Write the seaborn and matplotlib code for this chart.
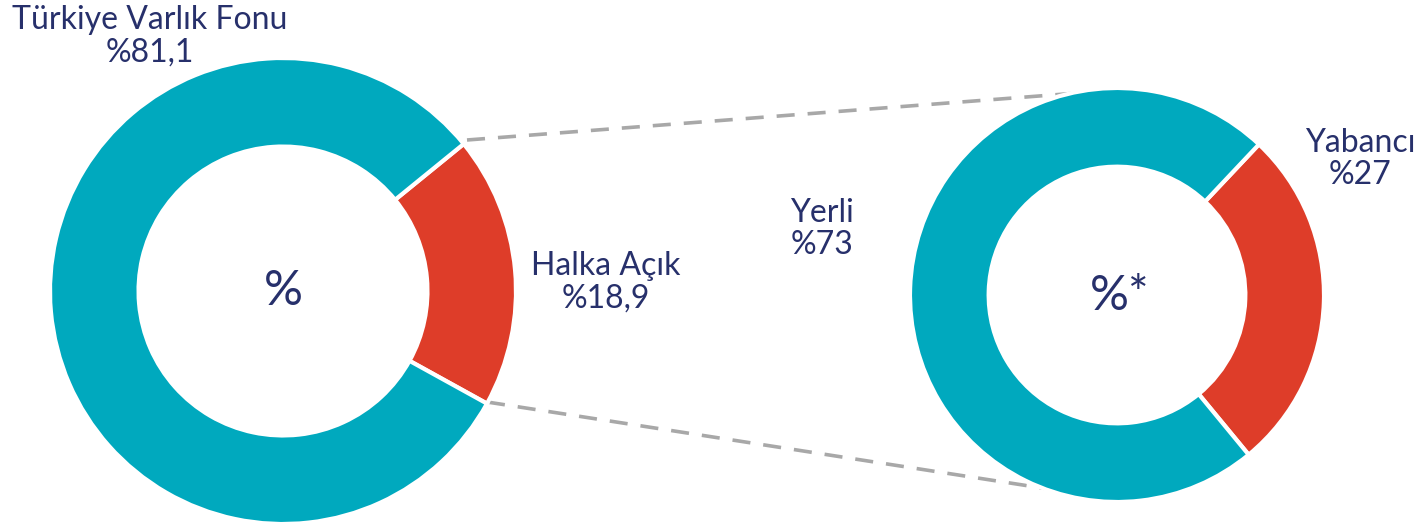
import matplotlib
matplotlib.use("Agg")
import matplotlib.pyplot as plt
import seaborn as sns

# Data
main_labels = ["Halka Açık", "Türkiye Varlık Fonu"]
main_values = [18.9, 81.1]
main_texts = ["Halka Açık\n%18,9", "Türkiye Varlık Fonu\n%81,1"]
sub_labels = ["Yabancı", "Yerli"]
sub_values = [27, 73]
sub_texts = ["Yabancı\n%27", "Yerli\n%73"]
center_texts = ["%", "%*"]

sns.set_theme(style="white")
plt.rcParams["font.family"] = ["Lato", "DejaVu Sans"]

teal = "#00A9BE"
red = "#DE3D29"
navy = "#27306B"
grey = "#A8A8A8"
palette = sns.color_palette([red, teal])

W, H = 1420, 524
fig = plt.figure(figsize=(W / 100, H / 100), dpi=100)
ax = fig.add_axes([0, 0, 1, 1])

# dashed connector lines (behind the right donut)
ax.plot([467, 1117], [H - 140, H - 90], color=grey, lw=2.6, dashes=(5, 3.6), zorder=1)
ax.plot([487, 1068], [H - 402, H - 492], color=grey, lw=2.6, dashes=(5, 3.6), zorder=1)

ax.pie(main_values, colors=palette, startangle=-28.9, counterclock=True,
       center=(283, H - 291), radius=233,
       wedgeprops=dict(width=0.38 * 233, edgecolor="white", linewidth=3),
       frame=True)
ax.pie(sub_values, colors=palette, startangle=-50.5, counterclock=True,
       center=(1117, H - 295), radius=207,
       wedgeprops=dict(width=0.38 * 207, edgecolor="white", linewidth=3),
       frame=True)
for p in ax.patches:
    p.set_zorder(2)

ax.set_xlim(0, W)
ax.set_ylim(0, H)
ax.set_aspect("equal")
ax.axis("off")

fs = 23
ls = 1.12
ax.text(150, H - 36, main_texts[1], ha="center", va="center", fontsize=fs,
        color=navy, linespacing=ls)
ax.text(606, H - 282, main_texts[0], ha="center", va="center", fontsize=fs,
        color=navy, linespacing=ls)
ax.text(822, H - 229, sub_texts[1], ha="center", va="center", fontsize=fs,
        color=navy, linespacing=ls)
ax.text(1360, H - 159, sub_texts[0], ha="center", va="center", fontsize=fs,
        color=navy, linespacing=ls)
ax.text(283, H - 291, center_texts[0], ha="center", va="center", fontsize=35, color=navy)
ax.text(1120, H - 296, center_texts[1], ha="center", va="center", fontsize=35, color=navy)

fig.savefig("out.png", dpi=100)
